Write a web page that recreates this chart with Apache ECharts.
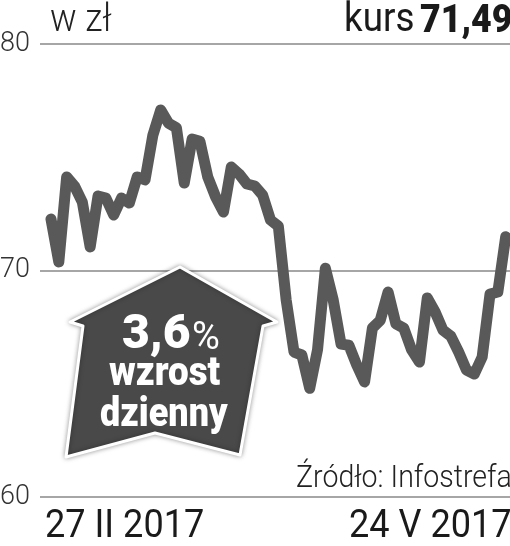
<!DOCTYPE html>
<html>
<head>
<meta charset="utf-8">
<style>
  html, body { margin: 0; padding: 0; background: #fff; }
  #chart { width: 510px; height: 546px; }
</style>
<script src="https://cdn.jsdelivr.net/npm/echarts@6/dist/echarts.min.js"></script>
</head>
<body>
<div id="chart"></div>
<script>
const kurs = [
  72.27, 70.38, 74.13, 73.73, 73.02, 71.04, 73.29, 73.2, 72.45, 73.2,
  72.98, 74.13, 74.0, 75.98, 77.09, 76.5, 76.3, 73.86, 75.8, 75.7,
  74.13, 73.25, 72.58, 74.57, 74.26, 73.82, 73.73, 73.33, 72.23, 71.96,
  68.7, 66.4, 66.27, 64.8, 66.5, 70.1, 68.7, 66.75, 66.7, 65.83,
  65.08, 67.46, 67.8, 69.05, 67.64, 67.46, 66.5, 65.96, 68.79, 68.17,
  67.37, 67.1, 66.4, 65.6, 65.43, 66.18, 68.96, 69.05, 71.49
]
const yTicks = [60, 70, 80]
const dateLabels = ['27 II 2017', '24 V 2017']
const unitLabel = 'w zł'
const kursLabel = 'kurs'
const kursValue = '71,49'
const sourceLabel = 'Źródło: Infostrefa'
const badgeLines = ['3,6', '%', 'wzrost', 'dzienny']

const font = 'Roboto, "Liberation Sans", sans-serif'
const textColor = '#222'

const chart = echarts.init(document.getElementById('chart'), null, { renderer: 'canvas' })

function label(text, x, y, size, scaleX, opts) {
  return {
    type: 'text',
    x: x,
    y: y,
    scaleX: scaleX,
    z: 10,
    style: Object.assign({
      text: text,
      fontFamily: font,
      fontSize: size,
      fill: textColor,
      align: 'left',
      verticalAlign: 'middle'
    }, opts || {})
  }
}

chart.setOption({
  animation: false,
  backgroundColor: '#fff',
  grid: { left: 40, right: 0, top: 44, bottom: 49, outerBoundsMode: 'none' },
  xAxis: {
    type: 'value',
    min: -1.4,
    max: 58.55,
    show: false
  },
  yAxis: {
    type: 'value',
    min: yTicks[0],
    max: yTicks[2],
    interval: 10,
    axisLine: { show: false },
    axisTick: { show: false },
    axisLabel: {
      color: '#333',
      fontFamily: font,
      fontWeight: 300,
      fontSize: 27,
      margin: 10
    },
    splitLine: { lineStyle: { color: '#a6a6a6', width: 2 } }
  },
  series: [{
    type: 'line',
    data: kurs.map((v, i) => [i, v]),
    symbol: 'none',
    lineStyle: { color: '#595959', width: 11, cap: 'round', join: 'round' }
  }],
  graphic: [
    {
      type: 'polygon',
      z: 5,
      shape: {
        points: [
          [180, 267], [277, 322], [263, 326], [240, 455], [155, 433],
          [66, 457], [83, 326], [70, 322]
        ]
      },
      style: {
        fill: '#494949',
        stroke: '#fff',
        lineWidth: 3,
        lineJoin: 'round',
        shadowColor: 'rgba(0,0,0,0.35)',
        shadowBlur: 5
      }
    },
    label(unitLabel, 50, 21, 38, 0.93, { fontWeight: 300 }),
    label(kursLabel, 344, 21, 40, 0.92, { fill: '#1a1a1a' }),
    label(kursValue, 420, 22, 38, 0.94, { fontWeight: 900, fill: '#1a1a1a' }),
    label(sourceLabel, 296, 479, 31, 0.92, { fontWeight: 300 }),
    label(dateLabels[0], 45, 527, 38, 0.95, { fill: '#1a1a1a' }),
    label(dateLabels[1], 349, 527, 38, 0.95, { fill: '#1a1a1a' }),
    label(badgeLines[0], 122, 336, 48, 1, { fontWeight: 900, fill: '#fff' }),
    label(badgeLines[1], 192, 339, 38, 1, { fontWeight: 400, fill: '#fff' }),
    label(badgeLines[2], 109, 375, 40, 0.92, { fontWeight: 900, fill: '#fff' }),
    label(badgeLines[3], 100, 416, 40, 0.9, { fontWeight: 900, fill: '#fff' })
  ]
})
</script>
</body>
</html>
